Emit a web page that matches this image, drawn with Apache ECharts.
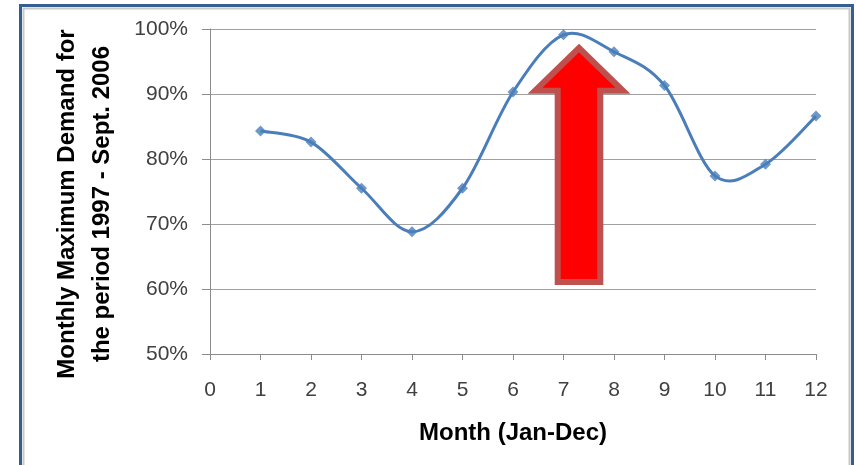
<!DOCTYPE html>
<html>
<head>
<meta charset="utf-8">
<script src="https://cdn.jsdelivr.net/npm/echarts@6/dist/echarts.min.js"></script>
<style>
html,body{margin:0;padding:0;background:#fff;}
#chart{width:856px;height:465px;}
</style>
</head>
<body>
<div id="chart"></div>
<script>
var months = [1,2,3,4,5,6,7,8,9,10,11,12];
var demandPct = [84.3, 82.6, 75.5, 68.8, 75.5, 90.3, 99.1, 96.5, 91.3, 77.4, 79.2, 86.6];
var yTitle = ['Monthly Maximum Demand for', 'the period 1997 - Sept. 2006'];
var xTitle = 'Month (Jan-Dec)';

var chart = echarts.init(document.getElementById('chart'), null, {renderer:'canvas'});
var font = 'Liberation Sans';
var lineColor = '#4a7ebb';
var points = months.map(function(m, i){ return [m, demandPct[i]]; });

function smoothCurve(params, api) {
  if (params.dataIndex !== 0) return null;
  var p = points.map(function(d){ return api.coord(d); });
  var n = p.length;
  var d = 'M' + p[0][0] + ' ' + p[0][1];
  for (var i = 0; i < n - 1; i++) {
    var p0 = p[Math.max(i - 1, 0)], p1 = p[i], p2 = p[i + 1], p3 = p[Math.min(i + 2, n - 1)];
    var c1x = p1[0] + (p2[0] - p0[0]) / 6, c1y = p1[1] + (p2[1] - p0[1]) / 6;
    var c2x = p2[0] - (p3[0] - p1[0]) / 6, c2y = p2[1] - (p3[1] - p1[1]) / 6;
    d += ' C' + c1x + ' ' + c1y + ' ' + c2x + ' ' + c2y + ' ' + p2[0] + ' ' + p2[1];
  }
  return {type: 'path', shape: {pathData: d}, style: {fill: null, stroke: lineColor, lineWidth: 3}};
}

var option = {
  backgroundColor: '#ffffff',
  animation: false,
  grid: {left: 210, right: 40, top: 29, bottom: 111},
  xAxis: {
    type: 'value', min: 0, max: 12, interval: 1,
    axisLine: {show: true, lineStyle: {color: '#8c8c8c', width: 1}},
    axisTick: {show: true, length: 6, lineStyle: {color: '#8c8c8c'}},
    splitLine: {show: false},
    axisLabel: {color: '#404040', fontFamily: font, fontSize: 21, margin: 26}
  },
  yAxis: {
    type: 'value', min: 50, max: 100, interval: 10,
    axisLine: {show: true, lineStyle: {color: '#8c8c8c', width: 1}},
    axisTick: {show: true, length: 8, lineStyle: {color: '#8c8c8c'}},
    splitLine: {show: true, lineStyle: {color: '#a0a0a0', width: 1}},
    axisLabel: {color: '#404040', fontFamily: font, fontSize: 21, margin: 22, formatter: '{value}%'}
  },
  series: [{
    type: 'custom',
    coordinateSystem: 'cartesian2d',
    renderItem: smoothCurve,
    data: points,
    clip: false,
    z: 2
  }, {
    type: 'scatter',
    data: points,
    symbol: 'diamond',
    symbolSize: 11,
    itemStyle: {color: lineColor},
    z: 3
  }],
  graphic: [
    {type: 'rect', shape: {x: 20.5, y: 5.5, width: 832, height: 480}, style: {fill: null, stroke: '#365f91', lineWidth: 3}, z: 100},
    {type: 'rect', shape: {x: 23.5, y: 8.5, width: 826, height: 480}, style: {fill: null, stroke: '#c8c8c8', lineWidth: 2}, z: 100},
    {type: 'polygon', shape: {points: [[579,48],[623,90.8],[600.3,90.8],[600.3,282],[557.7,282],[557.7,90.8],[535,90.8]]},
     style: {fill: '#ff0000', stroke: '#c0504d', lineWidth: 6, lineJoin: 'miter'}, z: 100},
    {type: 'text', x: 67, y: 204, rotation: Math.PI/2,
     style: {text: yTitle[0], fontFamily: font, fontWeight: 'bold', fontSize: 24, fill: '#000', textAlign: 'center', textVerticalAlign: 'middle'}, z: 100},
    {type: 'text', x: 102, y: 204, rotation: Math.PI/2,
     style: {text: yTitle[1], fontFamily: font, fontWeight: 'bold', fontSize: 24, fill: '#000', textAlign: 'center', textVerticalAlign: 'middle'}, z: 100},
    {type: 'text', x: 513, y: 433,
     style: {text: xTitle, fontFamily: font, fontWeight: 'bold', fontSize: 24, fill: '#000', textAlign: 'center', textVerticalAlign: 'middle'}, z: 100}
  ]
};
chart.setOption(option);
</script>
</body>
</html>
